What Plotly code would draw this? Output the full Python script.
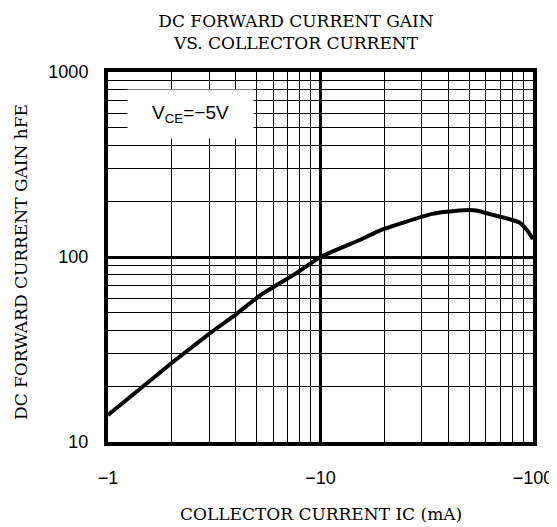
import plotly.graph_objects as go

# Data
ic_ma = [-1, -2, -3, -4, -5.3, -7.6, -10, -15.4, -19, -33.5, -45, -54, -62, -86, -94, -100]
hfe = [14, 26.8, 38.5, 49, 63, 81, 100, 124, 139, 171, 178.6, 178.6, 171, 154, 139, 125]

x_tickvals = [1, 10, 100]
x_ticktext = ["\u22121", "\u221210", "\u2212100"]
y_tickvals = [10, 100, 1000]
y_ticktext = ["10", "100", "1000"]
minor_x = [m * d for d in (1, 10) for m in range(2, 10)]
minor_y = [m * d for d in (10, 100) for m in range(2, 10)]

serif = "DejaVu Serif, Liberation Serif, serif"
sans = "Liberation Sans, Arial, sans-serif"

# the page body adds an 8px offset; figure is sized to compensate
W, H = 549, 519

fig = go.Figure()
fig.add_trace(go.Scatter(
    x=[-v for v in ic_ma], y=hfe, mode="lines",
    line=dict(color="black", width=4, shape="spline", smoothing=0.5),
    showlegend=False, hoverinfo="skip",
))

fig.update_layout(
    width=W, height=H,
    margin=dict(l=100, r=24, t=64, b=85),
    paper_bgcolor="white", plot_bgcolor="white",
    title=dict(
        text="DC FORWARD CURRENT GAIN<br>VS. COLLECTOR CURRENT",
        x=(296 - 8) / W, xanchor="center", y=1 - 19 / H, yanchor="middle",
        font=dict(family=serif, size=17, color="black"),
        automargin=False,
    ),
    xaxis=dict(
        type="log", range=[0, 2], automargin=False,
        tickvals=x_tickvals, ticktext=x_ticktext,
        tickfont=dict(family=sans, size=18, color="black"),
        ticks="", ticklabelstandoff=16,
        showgrid=True, gridcolor="black", gridwidth=3,
        minor=dict(tickvals=minor_x, showgrid=True, gridcolor="black", gridwidth=1, ticks=""),
        showline=True, linecolor="black", linewidth=4, mirror=True,
        zeroline=False,
    ),
    yaxis=dict(
        type="log", range=[1, 3], automargin=False,
        tickvals=y_tickvals, ticktext=y_ticktext,
        tickfont=dict(family=sans, size=18, color="black"),
        ticks="", ticklabelstandoff=12,
        showgrid=True, gridcolor="black", gridwidth=3,
        minor=dict(tickvals=minor_y, showgrid=True, gridcolor="black", gridwidth=1, ticks=""),
        showline=True, linecolor="black", linewidth=4, mirror=True,
        zeroline=False,
    ),
    annotations=[
        dict(text="COLLECTOR CURRENT IC (mA)", xref="paper", yref="paper",
             x=(321 - 108) / 425, y=(442 - 514) / 370, xanchor="center", yanchor="middle",
             showarrow=False, font=dict(family=serif, size=17, color="black")),
        dict(text="DC FORWARD CURRENT GAIN hFE", xref="paper", yref="paper",
             x=(21 - 108) / 425, y=(442 - 262) / 370, xanchor="center", yanchor="middle",
             showarrow=False, textangle=-90, font=dict(family=serif, size=17, color="black")),
        dict(text="V<sub>CE</sub>=\u22125V", xref="paper", yref="paper",
             x=(190 - 108) / 425, y=(442 - 114) / 370, xanchor="center", yanchor="middle",
             showarrow=False, width=125, height=48, bgcolor="white", borderpad=0,
             font=dict(family=sans, size=19, color="black")),
    ],
)

fig.write_html("out.html")
